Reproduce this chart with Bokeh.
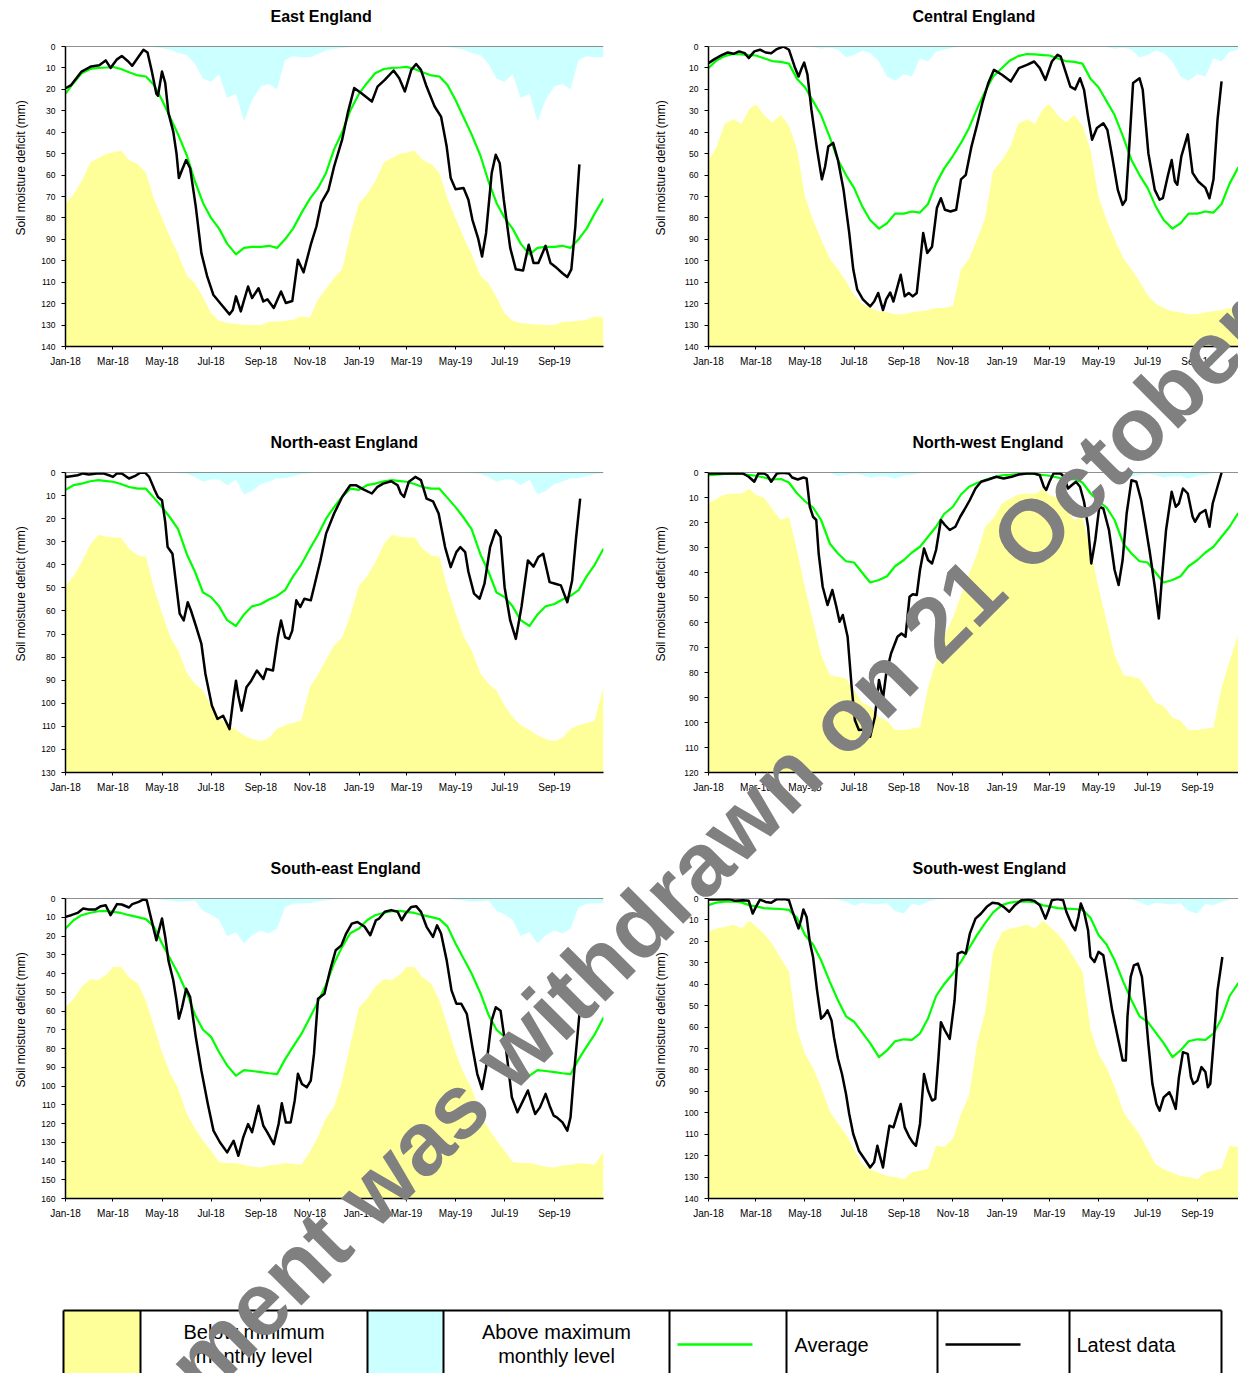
import pandas as pd
from bokeh.plotting import figure
from bokeh.layouts import column, row
from bokeh.models import Range1d, FixedTicker, Span, Label, Title, Div
from bokeh.embed import file_html
from bokeh.resources import INLINE

# ---------------- axis data ----------------
BASE = pd.Timestamp("2018-01-01")
END = pd.Timestamp("2019-11-01")
month_dates = ["2018-01-01", "2018-03-01", "2018-05-01", "2018-07-01", "2018-09-01", "2018-11-01",
               "2019-01-01", "2019-03-01", "2019-05-01", "2019-07-01", "2019-09-01"]
month_labels = ["Jan-18", "Mar-18", "May-18", "Jul-18", "Sep-18", "Nov-18",
                "Jan-19", "Mar-19", "May-19", "Jul-19", "Sep-19"]
month_ticks = [int((pd.Timestamp(d) - BASE).days) for d in month_dates]
XMAX = (END - BASE).days

# long-term statistics are read at the 1st, 11th and 21st of each month (they repeat every year)
dekad_dates = [pd.Timestamp(2018, m, d) for m in range(1, 13) for d in (1, 11, 21)]
dekad_dates_2019 = [pd.Timestamp(2019, m, d) for m in range(1, 13) for d in (1, 11, 21)
                    if pd.Timestamp(2019, m, d) <= END]
season_day = [(d - BASE).days for d in dekad_dates + dekad_dates_2019]
N19 = len(dekad_dates_2019)

# ---------------- East England ----------------
east_min = [73, 69, 63, 54, 52, 50, 49.5, 48.5, 53, 55, 59, 71, 80, 89, 97, 107, 110.5, 117, 124.5, 128,
            129, 129.5, 129.8, 130, 130, 128.5, 128.3, 128, 127.5, 126, 126.5, 118, 113, 108, 104, 88]
east_max = [0, 0, 0, 0, 0, 0, 0, 0, 0, 0, 0, 0.3, 0.7, 1.5, 3, 4, 8, 15, 16.5, 13,
            24, 22, 35, 25, 18.5, 17.5, 20, 6.3, 4.6, 5, 5, 3.5, 1.8, 1.2, 0.6, 0.3]
east_avg = [22, 17, 12.5, 10.5, 10, 9.8, 9.5, 10.5, 12, 13.5, 14, 18, 25, 33, 41, 51, 63, 73, 80, 85,
            92, 97, 94, 93.5, 93.5, 93, 94, 90, 85, 78, 71, 66, 59, 48, 40, 30]
east_day = [0, 7, 20, 32, 42, 50, 56, 64, 70, 78, 83, 91, 97, 102, 107, 113, 115, 120, 124, 128,
            134, 138, 141, 145, 150, 155, 162, 169, 176, 184, 194, 204, 208, 212, 218, 227, 232, 240, 246, 251,
            259, 268, 274, 282, 289, 296, 305, 312, 318, 327, 334, 344, 351, 359, 368, 381, 388, 397, 408, 415,
            422, 430, 436, 442, 449, 459, 467, 474, 479, 485, 495, 501, 506, 513, 518, 523, 530, 535, 540, 545,
            553, 560, 569, 576, 582, 588, 597, 603, 611, 618, 624, 629, 634, 636, 639]
east_latest = [19.5, 18, 11.7, 9.3, 8.7, 6.5, 10, 6, 4.4, 7, 9, 4.7, 1.5, 2.8, 11, 22, 23, 11.7, 17, 31,
               39.7, 49.8, 61.4, 57.5, 53, 56.8, 74.7, 96.5, 107, 116, 120.5, 125, 123, 116.6, 123.6, 112, 117.4,
               112.8, 119, 118, 122, 114.3, 119.7, 118.8, 99.5, 105.4, 92.5, 84, 73, 67, 56, 43.5, 31, 19.4, 21.8,
               25.7, 18.7, 15.6, 11.2, 14.8, 21, 10.9, 8.2, 10.9, 18.7, 28, 32.7, 46.7, 61.4, 66.6, 66, 71.5, 80.9,
               89.4, 98, 87, 59, 50.5, 54.5, 71.5, 94, 104, 104.5, 92.5, 101, 101, 93, 101, 103.4, 105.8, 107.6,
               104, 84, 71.5, 55]

# ---------------- Central England ----------------
central_min = [53, 47, 36, 34, 36, 29, 27, 32, 35.5, 32, 37, 48, 70, 81, 90, 99, 104, 109.5, 116, 120,
               122, 123.5, 124, 125, 125, 124, 123.5, 123, 122, 122, 121, 104, 99, 90, 80, 58]
central_max = [0, 0, 0, 0, 0, 0, 0, 0, 0, 0, 0, 0, 0, 0.2, 1, 0.5, 1.5, 5, 4, 2,
               3, 7, 14, 16, 13, 14, 5.5, 7, 2.5, 1.5, 0.5, 0.2, 0, 0, 0, 0]
central_avg = [10, 6.5, 4.5, 3.5, 3.7, 4, 4.2, 5.5, 6.8, 7.2, 8, 15, 19, 25.5, 32, 42.5, 53, 60, 66, 74.5,
               81, 85, 82.5, 78, 78, 77, 77.5, 73.5, 64, 57, 51, 45, 38, 29, 21, 14]
central_day = [0, 7, 17, 24, 31, 38, 45, 50, 57, 64, 71, 78, 85, 93, 100, 107, 112, 116, 119, 123,
               128, 135, 141, 145, 149, 155, 161, 168, 175, 180, 185, 192, 201, 206, 211, 217, 221, 226, 230, 235,
               239, 244, 249, 254, 259, 267, 272, 278, 284, 289, 294, 301, 308, 314, 320, 327, 334, 341, 348, 355,
               365, 376, 386, 396, 405, 412, 419, 427, 434, 438, 444, 450, 456, 462, 467, 472, 477, 483, 491, 496,
               502, 509, 515, 519, 523, 528, 536, 540, 547, 555, 561, 565, 571, 576, 580, 583, 588, 596, 602, 609,
               618, 623, 628, 633, 638]
central_latest = [7.8, 6, 3.9, 2.8, 3.4, 2.3, 3.1, 5.4, 2.3, 1.5, 2.8, 3.1, 1.2, 0, 1.5, 9.3, 14, 10, 7.5, 13,
                  29.5, 48, 62, 56, 46.7, 45, 53, 67, 87, 104, 113.5, 118, 121.3, 119, 115, 123, 118, 114.8, 119,
                  112, 106.5, 116.6, 115, 116.6, 115, 87, 96.4, 93.4, 75.4, 70.8, 76.2, 77, 76.2, 62, 59.9, 46.7,
                  36.5, 25.7, 17, 10.9, 13.2, 16.3, 10.1, 8.6, 7, 10.1, 15.6, 7, 3.9, 4.7, 11.7, 18.7, 20, 14.8,
                  20.2, 32.7, 43.5, 38, 35.8, 38.9, 51.3, 66.9, 73.9, 71.5, 48.2, 17, 14.8, 20.2, 49.8, 66.9, 71.5,
                  70.8, 60.7, 53, 63, 64.5, 51.3, 41, 59, 63, 66, 70.8, 62, 34.2, 16.3]

# ---------------- North-east England ----------------
ne_min = [49, 45, 39, 31, 27, 27.8, 28.2, 28.2, 33, 36, 36.5, 50, 61, 71, 77, 87, 91.5, 94.5, 101, 106,
          109.5, 111.5, 114, 115.5, 116.5, 115, 111, 109.5, 108.5, 107.5, 93, 87.5, 81, 75, 71.5, 62]
ne_max = [0, 0, 0, 0, 0, 0, 0, 0, 0, 0, 0, 0, 0, 0, 0.3, 0.5, 2, 4, 3, 3,
          5.5, 3, 9.5, 8, 5, 4, 2.5, 2.5, 1.5, 0.8, 0.3, 0, 0, 0, 0, 0]
ne_avg = [7.5, 5.5, 4.8, 3.8, 3.3, 3.7, 4, 5, 6.3, 7, 7, 11, 15, 19.5, 24.5, 35.5, 43, 52, 54, 58,
          64, 66.5, 61.5, 58, 57, 55, 53.5, 51, 45, 40, 33, 27, 20, 15, 10.5, 7]
ne_day = [0, 7, 15, 22, 29, 39, 47, 54, 59, 64, 70, 79, 86, 93, 99, 104, 111, 115, 120, 124,
          127, 133, 138, 142, 147, 152, 156, 162, 169, 174, 182, 189, 196, 201, 204, 209, 212, 215, 219, 225,
          231, 238, 246, 250, 258, 264, 268, 273, 278, 282, 287, 292, 297, 305, 309, 317, 324, 334, 344, 354,
          361, 371, 381, 388, 395, 405, 413, 417, 421, 427, 435, 442, 449, 457, 464, 472, 479, 486, 491, 497,
          501, 508, 515, 521, 528, 535, 541, 546, 553, 560, 567, 575, 582, 588, 594, 602, 609, 616, 624, 630,
          635, 640]
ne_latest = [1.9, 1.6, 1.2, 0.4, 0.9, 0.4, 0.4, 1.2, 1.9, 0.4, 0.4, 2.6, 1.6, 0.1, 0.1, 1.9, 7.7, 10.6, 12, 21.4,
             32.3, 35.2, 49.7, 61.2, 64.1, 56.2, 59.8, 66.3, 74.3, 87.3, 101, 106.8, 105.4, 109, 111.2, 97.4, 90.2,
             97, 103.2, 93.1, 90.2, 85.8, 89.5, 85.1, 85.8, 71.4, 64.1, 71.4, 72.1, 68.5, 55.4, 58.3, 54.7, 55.4,
             49.7, 38.1, 26.5, 17.8, 10.6, 5.5, 5.5, 7.4, 9.1, 6.2, 4.8, 3.8, 5.5, 9.1, 10.6, 4, 1.9, 3.3, 11.3,
             12.5, 17.8, 32.3, 41, 34.5, 32.3, 34.5, 43, 52.5, 54.7, 48.2, 32.3, 25, 27.9, 49.7, 64.1, 72.1, 58.3,
             38.1, 40.8, 36.6, 35.2, 47.5, 48.2, 48.9, 56.2, 46.8, 27.9, 11.3]

# ---------------- North-west England ----------------
nw_min = [12.4, 10.5, 8.8, 8.4, 8.5, 6.5, 9, 10, 14.5, 19, 17.7, 31, 46, 59.5, 73, 81, 81.7, 82.4, 87, 92,
          93.5, 98, 99.3, 103, 103, 102.4, 102, 86, 75.5, 65.5, 58, 49, 40.5, 32.4, 21.7, 18.4]
nw_max = [0, 0, 0, 0, 0, 0, 0, 0, 0, 0, 0, 0, 0, 0, 0, 0, 1.5, 1, 0.5, 1,
          2, 1.5, 1.5, 2.5, 1.2, 1, 0.3, 0, 0, 0, 0, 0, 0, 0, 0, 0]
nw_avg = [1.1, 0.9, 0.6, 0.4, 0.6, 1, 1.3, 2, 2.8, 2.6, 4, 8.3, 11.5, 14, 19, 28.5, 32.4, 35.5, 36, 40,
          44, 43, 41.5, 37.5, 35, 32, 29.7, 25.7, 21.7, 16.6, 13.7, 8.8, 5.7, 4.2, 3, 2]
nw_day = [0, 12, 31, 43, 50, 57, 62, 69, 73, 78, 85, 92, 100, 104, 111, 118, 122, 126, 130, 134,
          137, 142, 148, 154, 159, 163, 167, 173, 178, 182, 187, 194, 201, 207, 212, 217, 221, 227, 235, 240,
          245, 250, 254, 259, 263, 268, 273, 278, 283, 289, 294, 300, 307, 313, 318, 325, 332, 339, 348, 358,
          367, 377, 386, 396, 405, 412, 417, 420, 424, 429, 438, 442, 447, 452, 457, 462, 467, 472, 476, 481,
          486, 491, 498, 505, 510, 515, 520, 526, 532, 538, 543, 549, 555, 560, 564, 569, 576, 581, 585, 590,
          596, 602, 605, 611, 618, 623, 627, 633, 638]
nw_latest = [0.4, 0.4, 0.4, 0.4, 1.7, 3.7, 0.3, 0.4, 1.1, 3.7, 0.4, 0.1, 0.4, 2, 2.8, 2, 2.4, 13.7, 17.7, 19,
             32.4, 45.7, 53, 47, 53.7, 59.7, 57, 65.7, 85.7, 99, 103, 102.8, 105.7, 97.7, 83, 90.4, 80.4, 72.4,
             65.7, 64.4, 65.7, 49.7, 48.7, 49, 39, 30.4, 35, 36.4, 31, 19, 21, 23, 21.7, 17.7, 15, 11, 6.4, 3.7,
             2.8, 1.7, 2.4, 1.7, 0.8, 0.4, 0.4, 1.1, 5.7, 7, 3.7, 0.4, 0.4, 1.7, 6.4, 5, 3.7, 5.7, 11.7, 21.7,
             36.4, 27, 13.7, 14.4, 23, 39, 45, 35, 16.4, 3.1, 3.7, 11, 20.4, 32.4, 45.7, 58.4, 41.7, 23, 7.7,
             13.7, 12.4, 6.4, 8.4, 17.7, 19.7, 16.4, 15, 21.7, 12.4, 5.7, 0.1]

# ---------------- South-east England ----------------
se_min = [58, 53.5, 47, 43, 43.5, 40.5, 36.5, 36.5, 42, 45.5, 54.5, 68, 82, 93, 101, 115, 122.5, 129, 134.5, 140.5,
          141, 141, 142, 143, 143.4, 142.2, 142, 141, 141.5, 142, 135, 127, 117, 111, 97, 78]
se_max = [0, 0, 0, 0, 0, 0, 0, 0, 0, 0, 0, 0.3, 0.6, 1.1, 1.7, 1.5, 1, 6.5, 8.5, 11.5,
          20, 18, 24, 19.6, 17, 18.7, 16, 4.6, 2.8, 2.5, 2.5, 1.5, 0.9, 0.4, 0.2, 0]
se_avg = [16, 11.6, 8.9, 7.6, 6.8, 6.6, 7.1, 7.7, 8.9, 9.9, 11, 15, 24, 32, 40, 50.5, 62, 70, 73.8, 82,
          89, 94.5, 91.5, 92, 92.6, 93.2, 93.7, 85.8, 79, 72.5, 63.5, 55, 46, 34.5, 25.8, 18.5]
se_day = [0, 7, 15, 22, 29, 37, 44, 50, 56, 64, 70, 79, 83, 91, 97, 101, 106, 113, 120, 124,
          128, 134, 138, 141, 145, 150, 155, 162, 169, 177, 184, 192, 201, 209, 215, 221, 227, 232, 240, 246,
          251, 259, 265, 269, 274, 280, 285, 289, 294, 300, 305, 309, 314, 322, 329, 336, 343, 349, 356, 363,
          372, 379, 386, 390, 397, 405, 413, 418, 423, 430, 436, 442, 449, 457, 462, 467, 474, 480, 486, 492,
          499, 506, 512, 518, 523, 530, 535, 541, 548, 555, 562, 569, 575, 580, 584, 590, 597, 602, 607, 611,
          618, 624, 628, 633, 639]
se_latest = [9.8, 8.9, 7.7, 5.3, 5.9, 5.9, 4.1, 3.6, 8.9, 3, 3.2, 4.8, 3, 1.8, 0.5, 0.9, 9.8, 22.3, 10.7, 20.5,
             33, 43.6, 54.3, 64.1, 58, 48.1, 52.6, 73.9, 91.8, 109.6, 123.8, 130, 135.4, 129.2, 137.2, 127.4, 120.3,
             124.7, 110.5, 121.2, 124.7, 131, 120.3, 109.2, 119.4, 119.4, 107.8, 93.5, 98.9, 100.7, 97.1, 82.9,
             53.5, 50.8, 38.3, 27.6, 25, 18.7, 13.4, 12.5, 15.1, 19.6, 11.6, 10.7, 7.1, 6.2, 7.1, 11.6, 8, 4.5,
             4.1, 7.1, 15.1, 20.5, 14.3, 18.7, 33, 49, 56.1, 56.1, 61.5, 79.3, 93.5, 101.6, 90, 65, 58, 59.9, 81,
             106, 114, 107.8, 102.4, 109.6, 114.9, 111.4, 104.2, 110.5, 115.8, 116.7, 119.4, 123.8, 116.7, 90, 62]

# ---------------- South-west England ----------------
sw_min = [15.6, 14, 13.3, 12.2, 14, 10.3, 13, 16.5, 21, 28, 34, 61, 72.5, 79, 88, 99.5, 105, 110, 117, 124,
          126.3, 128, 129.5, 130, 131, 127.7, 127, 126, 115.4, 116, 112, 100.5, 92, 67.5, 53, 24.5]
sw_max = [0, 0, 0, 0, 0, 0, 0, 0, 0, 0, 0, 0, 0, 0, 0, 0.3, 0.5, 1.5, 3.3, 2,
          2.5, 2.6, 2.2, 5.8, 7, 2.5, 3.1, 1.5, 0.4, 0.2, 0, 0, 0, 0, 0, 0]
sw_avg = [3.1, 1.9, 1.5, 1.3, 1.8, 3.2, 3.7, 4.5, 4.7, 4.9, 5.3, 9, 17, 21.5, 28.8, 39, 47.5, 55, 57.5, 62.5,
          67.5, 74, 70.9, 66.6, 65.7, 66, 63, 56, 45.5, 40, 35, 29.5, 23.2, 17, 11.5, 6.5]
sw_day = [0, 12, 26, 33, 43, 50, 55, 59, 64, 71, 78, 85, 95, 100, 104, 109, 112, 115, 118, 122,
          126, 130, 135, 140, 144, 148, 153, 156, 161, 166, 171, 175, 180, 187, 194, 201, 206, 210, 213, 217,
          220, 225, 230, 235, 239, 244, 250, 254, 258, 263, 268, 273, 278, 282, 286, 289, 294, 300, 306, 310,
          315, 320, 325, 332, 339, 346, 353, 360, 367, 374, 381, 389, 398, 405, 412, 419, 423, 427, 434, 441,
          445, 452, 456, 460, 463, 467, 472, 475, 480, 485, 491, 496, 502, 509, 515, 519, 521, 525, 529, 534,
          539, 543, 547, 552, 557, 561, 566, 573, 576, 581, 585, 590, 596, 600, 603, 608, 613, 618, 621, 624,
          628, 633, 639]
sw_latest = [0.5, 0.5, 0.3, 1.1, 0.8, 1.1, 7, 3.9, 0.5, 1.6, 2, 0.3, 0.3, 0.8, 5.5, 10.9, 14, 10.1, 5.1, 8.6,
             20.3, 27.3, 42.9, 56.1, 54.6, 52.2, 56.9, 64.7, 74.8, 81.9, 91.2, 100.6, 109.9, 117.7, 121.6, 125.5,
             123.1, 115.4, 120, 125.5, 117.7, 106, 106.8, 100.6, 95.9, 106.8, 111.5, 113.8, 115.4, 105.2, 81.9,
             89.6, 94.3, 93.5, 74.1, 57.7, 61.6, 65.5, 47.6, 25.7, 24.9, 25.7, 16.4, 9.4, 7, 3.9, 2, 2.3, 3.9,
             6.2, 3.1, 0.8, 0.5, 1.1, 3.1, 9.4, 5.5, 0.8, 0.3, 0.8, 6.2, 12.5, 14.8, 8.6, 2.3, 6.2, 14.8, 27.3,
             29.6, 24.9, 26.5, 38.2, 52.2, 64.7, 75.6, 75.6, 55.3, 36.6, 31.2, 30.4, 36.6, 50.7, 67.8, 86.5, 95.9,
             99, 92.8, 90.4, 92.8, 98.2, 83.4, 71.7, 72.5, 83.4, 86.5, 85, 78.7, 81, 88.1, 86.5, 67.8, 42.9, 27.3]

panels = [
    ("East England", 140, east_min, east_max, east_avg, east_day, east_latest),
    ("Central England", 140, central_min, central_max, central_avg, central_day, central_latest),
    ("North-east England", 130, ne_min, ne_max, ne_avg, ne_day, ne_latest),
    ("North-west England", 120, nw_min, nw_max, nw_avg, nw_day, nw_latest),
    ("South-east England", 160, se_min, se_max, se_avg, se_day, se_latest),
    ("South-west England", 140, sw_min, sw_max, sw_avg, sw_day, sw_latest),
]

YELLOW = "#FFFF99"
CYAN = "#CCFFFF"
GREEN = "#00FF00"
FONT = "Liberation Sans"
WM_TEXT = "ment was withdrawn on 21 October"

FRAME_H = 300
BORDER_T = 46
BORDER_B = 80


def make_panel(idx, title, ymax, mn, mx, avg, lday, lval):
    right = idx % 2 == 1
    frame_w = 532 if right else 540
    border_l = 68 if right else 63
    border_r = 0 if right else 35
    p = figure(width=border_l + frame_w + border_r, height=BORDER_T + FRAME_H + BORDER_B,
               x_range=Range1d(0, XMAX * frame_w / 540), y_range=Range1d(ymax, 0),
               min_border_left=border_l, min_border_right=border_r,
               min_border_top=BORDER_T, min_border_bottom=BORDER_B,
               output_backend="svg", toolbar_location=None, tools="")
    mn_s = mn + mn[:N19]
    mx_s = mx + mx[:N19]
    avg_s = avg + avg[:N19]
    p.varea(x=season_day, y1=[ymax] * len(season_day), y2=mn_s, fill_color=YELLOW)
    p.varea(x=season_day, y1=[0] * len(season_day), y2=mx_s, fill_color=CYAN)
    p.line(season_day, avg_s, line_color=GREEN, line_width=2.2, line_join="round")
    p.line(lday, lval, line_color="black", line_width=2.5, line_join="round")
    p.add_layout(Span(location=0, dimension="width", line_color="#222222", line_width=1))

    p.grid.visible = False
    p.outline_line_color = None

    p.xaxis.ticker = FixedTicker(ticks=month_ticks)
    p.xaxis.major_label_overrides = dict(zip(month_ticks, month_labels))
    p.xaxis.major_label_text_font_size = "10px"
    p.xaxis.major_tick_out = 3
    p.xaxis.major_label_standoff = 6
    p.yaxis.ticker = FixedTicker(ticks=list(range(0, ymax + 1, 10)))
    p.yaxis.major_label_text_font_size = "8.5px"
    p.yaxis.major_tick_out = 4
    p.yaxis.major_label_standoff = 6
    for ax in (p.xaxis, p.yaxis):
        ax.major_label_text_font = FONT
        ax.major_label_text_color = "black"
        ax.axis_line_color = "black"
        ax.axis_line_width = 1.5
        ax.major_tick_line_color = "black"
        ax.major_tick_in = 0
        ax.minor_tick_line_color = None

    # empty spacer between frame and title, so the title sits higher
    p.add_layout(Title(text=" ", text_font_size="1px", standoff=15), "above")
    p.title.text = title
    p.title.align = "left"
    p.title.offset = 204 if right else 205
    p.title.text_font = FONT
    p.title.text_font_size = "16px"
    p.title.text_font_style = "bold"
    p.title.text_color = "black"
    p.title.standoff = 8
    p.add_layout(Title(text="Soil moisture deficit (mm)", align="left", offset=111,
                       text_font=FONT, text_font_size="12px", text_font_style="normal",
                       text_color="black", standoff=27 if right else 22), "left")
    return p


figs = [make_panel(i, *pn) for i, pn in enumerate(panels)]

# ---------------- legend table ----------------
LEG_TOP, LEG_BOT = 1278, 1373
leg_edges = [63, 140, 367, 443, 669, 786, 937, 1069, 1221]
leg = figure(width=1238, height=LEG_BOT - LEG_TOP, x_range=Range1d(0, 1238), y_range=Range1d(LEG_BOT, LEG_TOP),
             min_border=0, x_axis_location=None, y_axis_location=None,
             output_backend="svg", toolbar_location=None, tools="")
leg.grid.visible = False
leg.outline_line_color = None
leg.quad(left=[leg_edges[0], leg_edges[2]], right=[leg_edges[1], leg_edges[3]],
         top=[1310, 1310], bottom=[LEG_BOT, LEG_BOT], fill_color=[YELLOW, CYAN], line_color=None)
leg.segment(x0=[677, 945], x1=[752, 1020], y0=[1344, 1344], y1=[1344, 1344],
            line_color=[GREEN, "black"], line_width=2.5)
leg.segment(x0=leg_edges, x1=leg_edges, y0=[1310] * len(leg_edges), y1=[LEG_BOT] * len(leg_edges),
            line_color="black", line_width=2)
leg.segment(x0=[leg_edges[0]], x1=[leg_edges[-1]], y0=[1310], y1=[1310], line_color="black", line_width=2)
leg_texts = [("Below minimum", 253.5, 1331, "center"), ("monthly level", 253.5, 1355, "center"),
             ("Above maximum", 556, 1331, "center"), ("monthly level", 556, 1355, "center"),
             ("Average", 794, 1344, "left"), ("Latest data", 1076, 1344, "left")]
for t, x, y, al in leg_texts:
    leg.add_layout(Label(x=x, y=y, text=t, text_font=FONT, text_font_size="20px", text_color="black",
                         text_align=al, text_baseline="alphabetic"))

# ---------------- watermark across the whole page ----------------
WM_X, WM_Y, WM_SIZE = 205, 1402, 90       # baseline start (page px), font size
base_off = 76                              # baseline offset inside a 90px line box
wm_html = (
    '<div style="position:absolute;left:0px;top:0px;width:1238px;height:1373px;overflow:hidden;'
    'pointer-events:none;z-index:50;">'
    f'<div style="position:absolute;left:{WM_X}px;top:{WM_Y - base_off}px;transform-origin:0px {base_off}px;'
    f'transform:rotate(-45deg);font-family:\'{FONT}\';font-weight:bold;font-size:{WM_SIZE}px;'
    f'line-height:{WM_SIZE}px;color:#808080;white-space:nowrap;">{WM_TEXT}</div></div>'
)
wm = Div(text=wm_html, width=1238, height=0, margin=0,
         styles={"position": "relative", "overflow": "visible", "z-index": "50"})

layout = column(wm, row(figs[0], figs[1]), row(figs[2], figs[3]), row(figs[4], figs[5]), leg)

with open("out.html", "w") as f:
    f.write(file_html(layout, INLINE, "Soil moisture deficit"))
